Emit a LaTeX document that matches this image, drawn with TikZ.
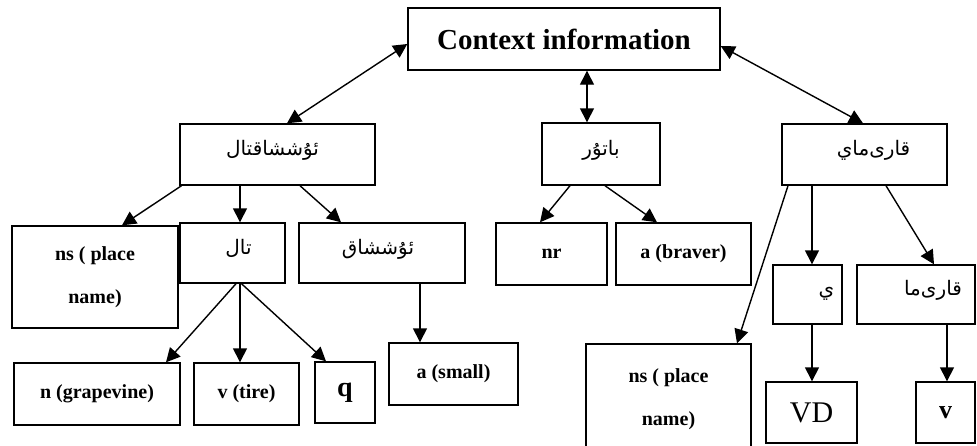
\documentclass[tikz,border=0pt]{standalone}
\usepackage{fontspec}
\setmainfont{Liberation Serif}
\newfontfamily\arabicfont[Script=Arabic]{DejaVu Sans}
\TeXXeTstate=1
\usetikzlibrary{arrows.meta}
% #1: horizontal shift of the label (positive = to the right), #2: text
\newcommand{\artxt}[2]{\makebox[0pt]{\hspace*{#1}\hspace*{#1}{\normalfont\arabicfont\fontsize{20}{24}\selectfont\beginR #2\endR}}}
\tikzset{
  box/.style={draw, line width=1.4pt, inner sep=0pt, align=center,
    font=\fontsize{20}{43}\selectfont\bfseries},
  arbox/.style={box, text height=10pt, text depth=8pt},
  arr/.style={line width=1.4pt, -{Triangle[length=14pt,width=14pt]}},
  darr/.style={line width=1.4pt, {Triangle[length=14pt,width=14pt]}-{Triangle[length=14pt,width=14pt]}}
}
\begin{document}
\begin{tikzpicture}[x=1pt,y=-1pt]
\useasboundingbox[fill=white] (0,0) rectangle (977,445);
% level 1
\node[box, minimum width=312pt, minimum height=62pt, font=\fontsize{29}{34}\selectfont\bfseries] (ctx) at (564,39) {Context information};
% level 2
\node[arbox, minimum width=195pt, minimum height=61pt] (A) at (277.5,154.5) {\artxt{-5pt}{ئۇششاقتال}};
\node[arbox, minimum width=118pt, minimum height=62pt] (B) at (601,154) {\artxt{0pt}{باتۇر}};
\node[arbox, minimum width=165pt, minimum height=61pt] (C) at (864.5,154.5) {\artxt{9pt}{قارى^^^^200cماي}};
% level 3
\node[box, minimum width=166pt, minimum height=102pt] (nsL) at (95,277) {ns ( place\\name)};
\node[arbox, minimum width=105pt, minimum height=60pt] (tal) at (232.5,253) {\artxt{6pt}{تال}};
\node[arbox, minimum width=166pt, minimum height=60pt] (ushaq) at (382,253) {\artxt{-4pt}{ئۇششاق}};
\node[box, minimum width=111pt, minimum height=62pt] (nr) at (551.5,254) {nr};
\node[box, minimum width=135pt, minimum height=62pt] (abr) at (683.5,254) {a (braver)};
\node[arbox, minimum width=69pt, minimum height=59pt] (yy) at (807.5,294.5) {\artxt{19pt}{ي}};
\node[arbox, minimum width=118pt, minimum height=59pt] (qarima) at (916,294.5) {\artxt{17pt}{قارى^^^^200cما}};
% level 4
\node[box, minimum width=166pt, minimum height=62pt] (ngr) at (97,394) {n (grapevine)};
\node[box, minimum width=105pt, minimum height=62pt] (vt) at (246.5,394) {v (tire)};
\node[box, minimum width=60pt, minimum height=61pt, font=\fontsize{28}{32}\selectfont\bfseries] (q) at (345,392.5) {q};
\node[box, minimum width=129pt, minimum height=62pt] (asm) at (453.5,374) {a (small)};
\node[box, minimum width=165pt, minimum height=111pt] (nsR) at (668.5,399.5) {ns ( place\\name)};
\node[box, minimum width=91pt, minimum height=61pt, font=\fontsize{30}{34}\selectfont] (VD) at (811.5,412.5) {VD};
\node[box, minimum width=59pt, minimum height=61pt, font=\fontsize{26}{30}\selectfont\bfseries] (vv) at (945.5,412.5) {v};
% connectors
\draw[darr] ([yshift=-5pt]ctx.west) -- ([xshift=9.5pt]A.north);
\draw[darr] ([xshift=23pt]ctx.south) -- ([xshift=-14pt]B.north);
\draw[darr] ([yshift=-7pt]ctx.east) -- ([xshift=-1.5pt]C.north);
\draw[arr] ([xshift=-96pt]A.south) -- ([xshift=27pt]nsL.north);
\draw[arr] ([xshift=-37.5pt]A.south) -- ([xshift=7.5pt]tal.north);
\draw[arr] ([xshift=22.5pt]A.south) -- ([xshift=-41pt]ushaq.north);
\draw[arr] ([xshift=3.5pt]tal.south) -- ([xshift=69pt]ngr.north);
\draw[arr] ([xshift=7.5pt]tal.south) -- ([xshift=-6.5pt]vt.north);
\draw[arr] ([xshift=9pt]tal.south) -- ([xshift=-19pt]q.north);
\draw[arr] ([xshift=38pt]ushaq.south) -- ([xshift=-33.5pt]asm.north);
\draw[arr] ([xshift=-31pt]B.south) -- ([xshift=-11.5pt]nr.north);
\draw[arr] ([xshift=4pt]B.south) -- ([xshift=-26.5pt]abr.north);
\draw[arr] ([xshift=-76.5pt]C.south) -- ([xshift=68.5pt]nsR.north);
\draw[arr] ([xshift=-52.5pt]C.south) -- ([xshift=4.5pt]yy.north);
\draw[arr] ([xshift=21.5pt]C.south) -- ([xshift=18pt]qarima.north);
\draw[arr] ([xshift=4.5pt]yy.south) -- ([xshift=0.5pt]VD.north);
\draw[arr] ([xshift=31pt]qarima.south) -- ([xshift=1.5pt]vv.north);
\end{tikzpicture}
\end{document}
